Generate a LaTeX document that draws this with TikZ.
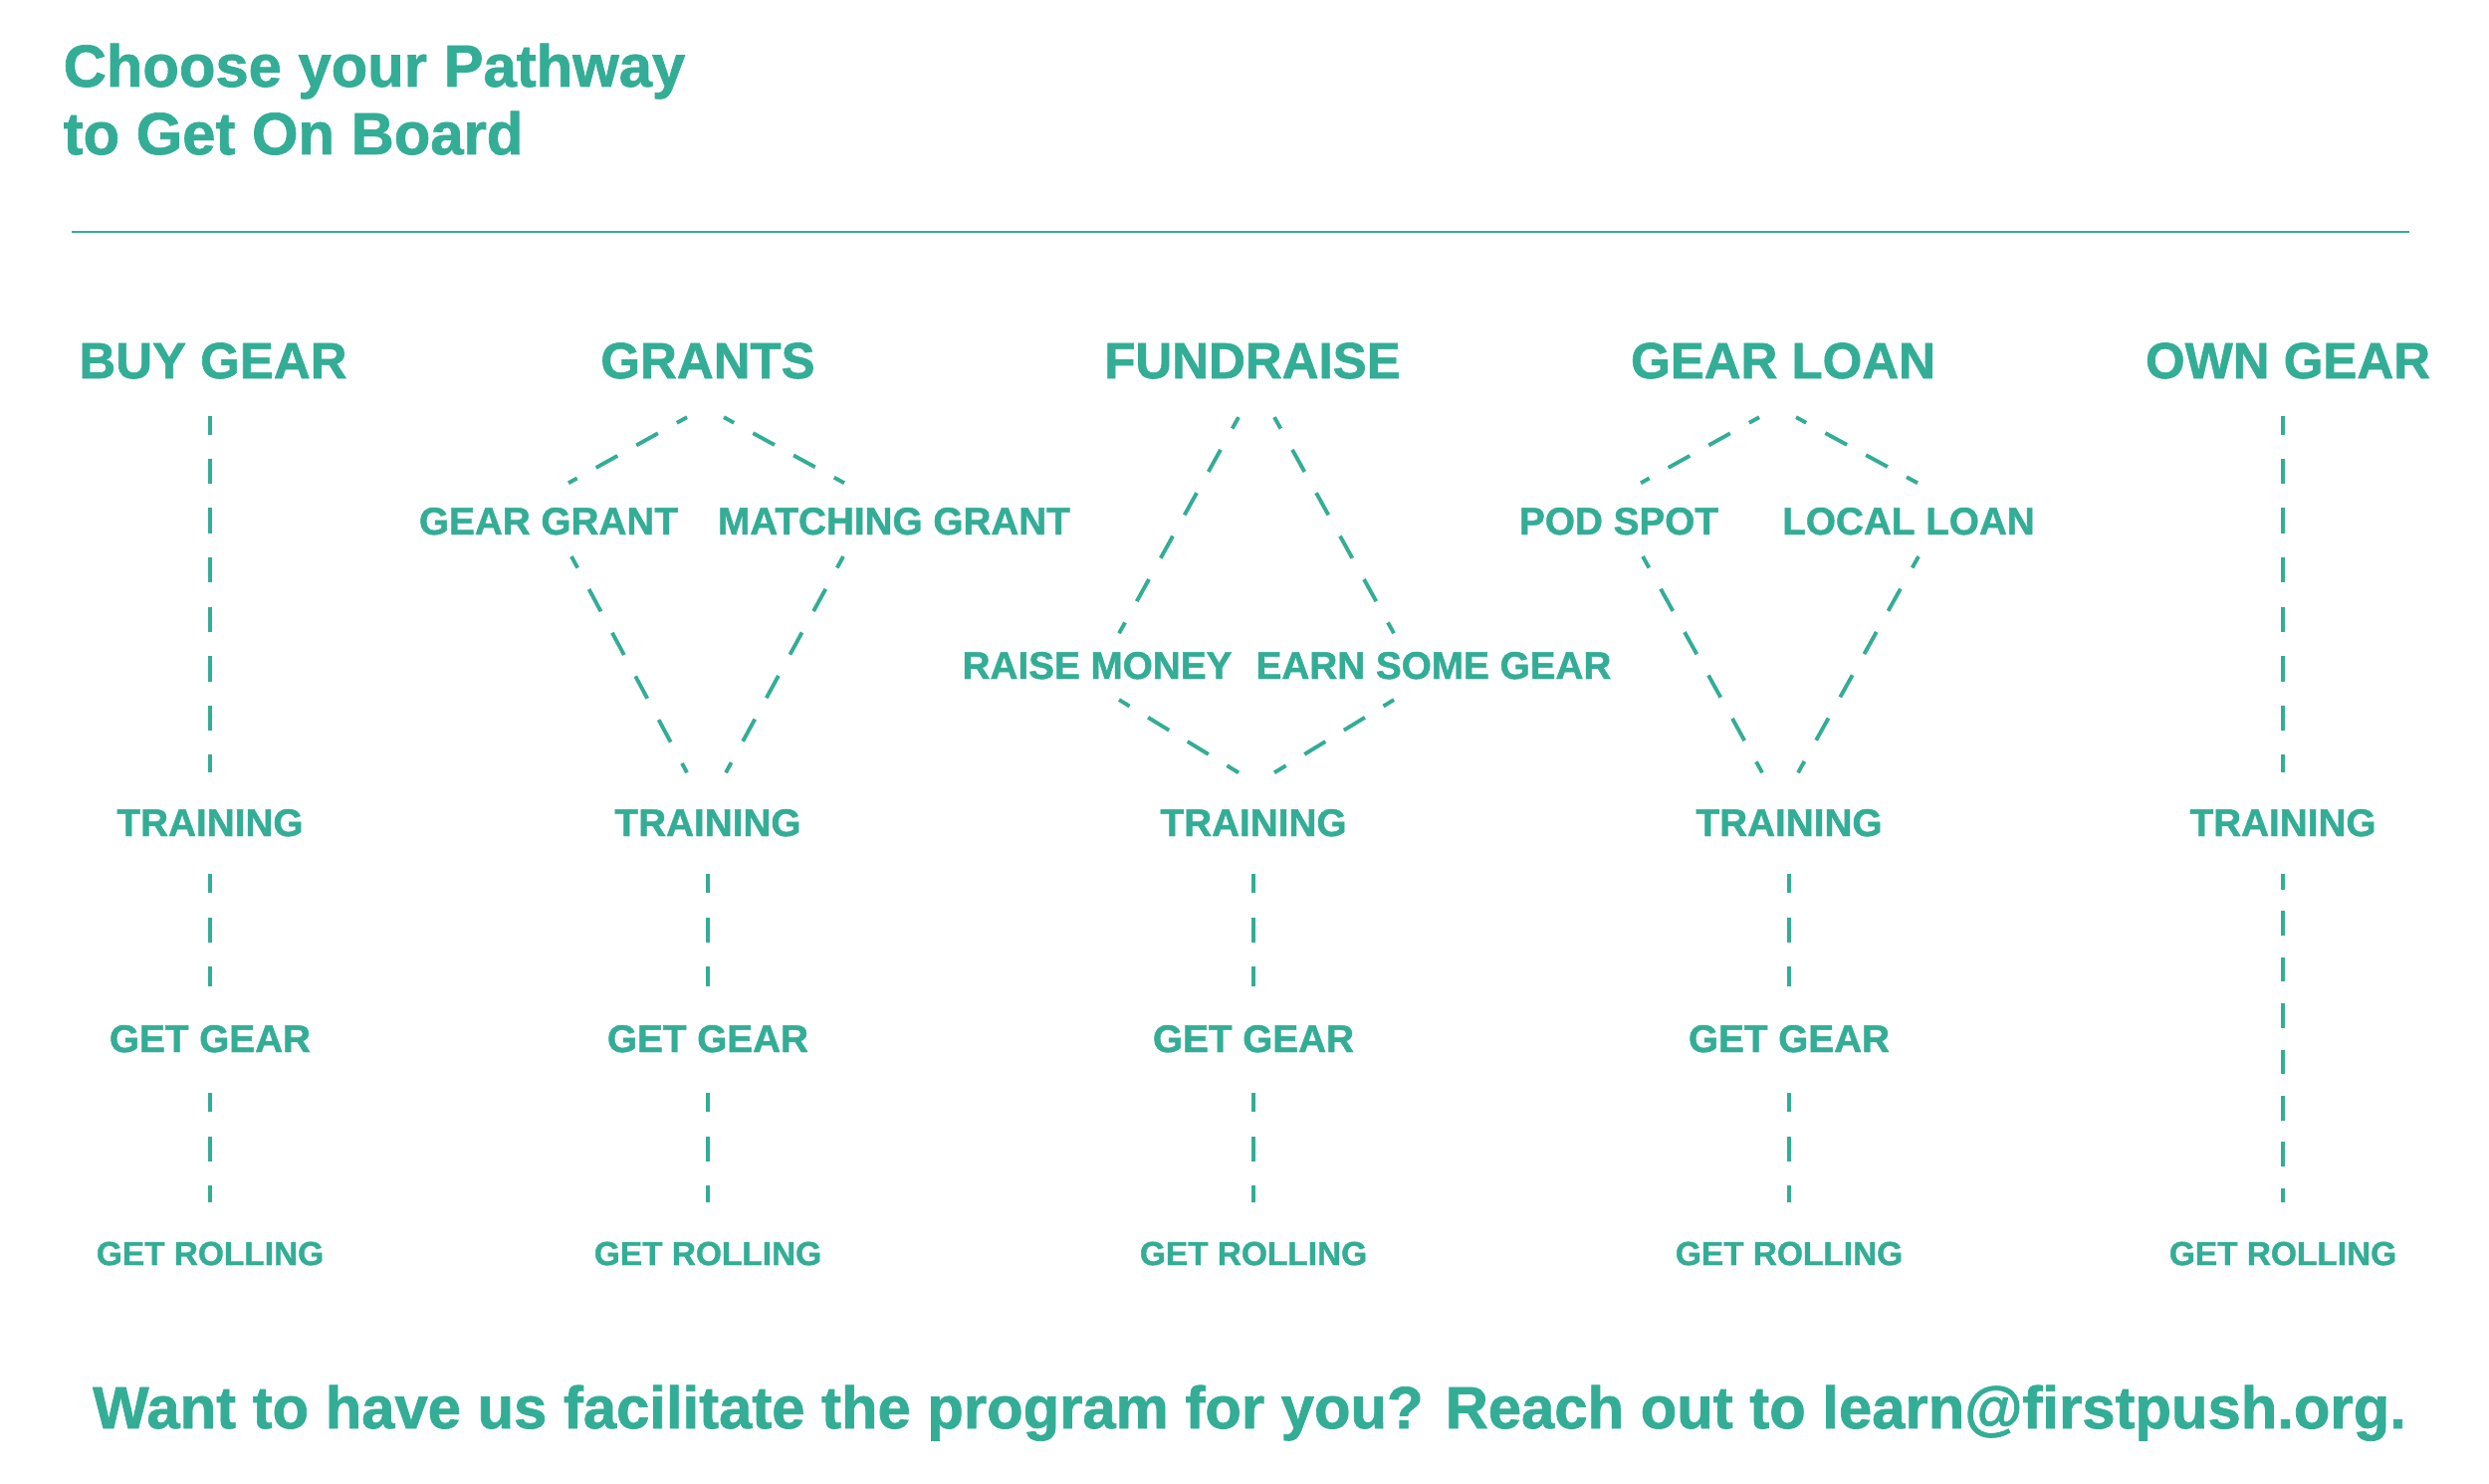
\documentclass[tikz,border=0pt]{standalone}
\usepackage{fontspec}
\setmainfont{Liberation Sans}[BoldFeatures={FakeBold=1.2}]
\usetikzlibrary{calc}
\definecolor{fpgreen}{HTML}{33AD96}

\begin{document}
\begin{tikzpicture}[x=0.01cm,y=-0.01cm,
        every node/.style={text=fpgreen,inner sep=0pt,anchor=base},
        title/.style={anchor=base west,font=\fontsize{17}{20}\selectfont\bfseries},
        head/.style={font=\fontsize{14.5}{17}\selectfont\bfseries},
        choice/.style={font=\fontsize{11}{13}\selectfont\bfseries},
        last/.style={font=\fontsize{9.5}{11}\selectfont\bfseries},
        route/.style={draw=fpgreen,line width=1.1pt,dash pattern=on 7.2pt off 6.9pt,dash phase=#1},
        route/.default=2pt,
        tight/.style={draw=fpgreen,line width=1.1pt,dash pattern=on 7pt off 6.2pt,dash phase=#1}]
    \path[fill=white,use as bounding box] (0,0) rectangle (2500,1491);

    % title and rule
    \node[title] (title1) at (63,87) {Choose your Pathway};
    \node[title] (title2) at (63,155) {to Get On Board};
    \draw[fpgreen,line width=0.6pt] (72,233) -- (2420,233);

    % headings
    \node[head] (buy) at (214,380) {BUY GEAR};
    \node[head] (grants) at (711,380) {GRANTS};
    \node[head] (fund) at (1258,380) {FUNDRAISE};
    \node[head] (loan) at (1791,380) {GEAR LOAN};
    \node[head] (own) at (2298,380) {OWN GEAR};

    % choices
    \node[choice] (ggrant) at (551,537) {GEAR GRANT};
    \node[choice] (mgrant) at (898,537) {MATCHING GRANT};
    \node[choice] (raise) at (1102,682) {RAISE MONEY};
    \node[choice] (earn) at (1440,682) {EARN SOME GEAR};
    \node[choice] (pod) at (1626,537) {POD SPOT};
    \node[choice] (local) at (1917,537) {LOCAL LOAN};

    % steps
    \node[choice] (trn1) at (211,840) {TRAINING};
    \node[choice] (trn2) at (711,840) {TRAINING};
    \node[choice] (trn3) at (1259,840) {TRAINING};
    \node[choice] (trn4) at (1797,840) {TRAINING};
    \node[choice] (trn5) at (2293,840) {TRAINING};
    \node[choice] (gear1) at (211,1057) {GET GEAR};
    \node[choice] (gear2) at (711,1057) {GET GEAR};
    \node[choice] (gear3) at (1259,1057) {GET GEAR};
    \node[choice] (gear4) at (1797,1057) {GET GEAR};
    \node[last] (roll1) at (211,1271) {GET ROLLING};
    \node[last] (roll2) at (711,1271) {GET ROLLING};
    \node[last] (roll3) at (1259,1271) {GET ROLLING};
    \node[last] (roll4) at (1797,1271) {GET ROLLING};
    \node[last] (roll5) at (2293,1271) {GET ROLLING};

    % buy gear / own gear
    \draw[route] ($(trn1.north)+(0,-394)$) -- ($(trn1.north)+(0,-36)$);
    \draw[route] ($(trn5.north)+(0,-394)$) -- ($(trn5.north)+(0,-36)$);

    % grants
    \draw[tight=3.7pt] ($(grants.south)+(-21,38)$) -- ($(ggrant.north)+(20,-24)$);
    \draw[tight=3.7pt] ($(grants.south)+(16,38)$) -- ($(mgrant.north)+(-50,-24)$);
    \draw[route=3.5pt] ($(ggrant.south)+(23,21)$) -- ($(trn2.north)+(-21,-36)$);
    \draw[route=3.5pt] ($(mgrant.south)+(-51,21)$) -- ($(trn2.north)+(18,-36)$);

    % fundraise
    \draw[route=3.5pt] ($(fund.south)+(-14,38)$) -- ($(raise.north)+(22,-18)$);
    \draw[route=3.5pt] ($(fund.south)+(22,38)$) -- ($(earn.north)+(-40,-18)$);
    \draw[tight=3.5pt] ($(raise.south)+(22,20)$) -- ($(trn3.north)+(-15,-36)$);
    \draw[tight=3.5pt] ($(earn.south)+(-40,20)$) -- ($(trn3.north)+(21,-36)$);

    % gear loan
    \draw[tight=3.7pt] ($(loan.south)+(-24,38)$) -- ($(pod.north)+(22,-24)$);
    \draw[tight=3.7pt] ($(loan.south)+(13,38)$) -- ($(local.north)+(9,-24)$);
    \draw[route=3.5pt] ($(pod.south)+(24,21)$) -- ($(trn4.north)+(-27,-36)$);
    \draw[route=3.5pt] ($(local.south)+(10,21)$) -- ($(trn4.north)+(9,-36)$);

    % lower steps
    \foreach \i in {1,2,3,4}{
        \draw[route=1.7pt] ($(trn\i.south)+(0,37)$) -- ($(gear\i.north)+(0,-38)$);
        \draw[route=1.7pt] ($(gear\i.south)+(0,40)$) -- ($(roll\i.north)+(0,-39)$);
    }
    \draw[tight=2.6pt] ($(trn5.south)+(0,37)$) -- ($(roll5.north)+(0,-39)$);

    % footer
    \node[font=\fontsize{17}{20}\selectfont\bfseries] (footer) at (1255,1435)
        {Want to have us facilitate the program for you? Reach out to learn@firstpush.org.};
\end{tikzpicture}
\end{document}
